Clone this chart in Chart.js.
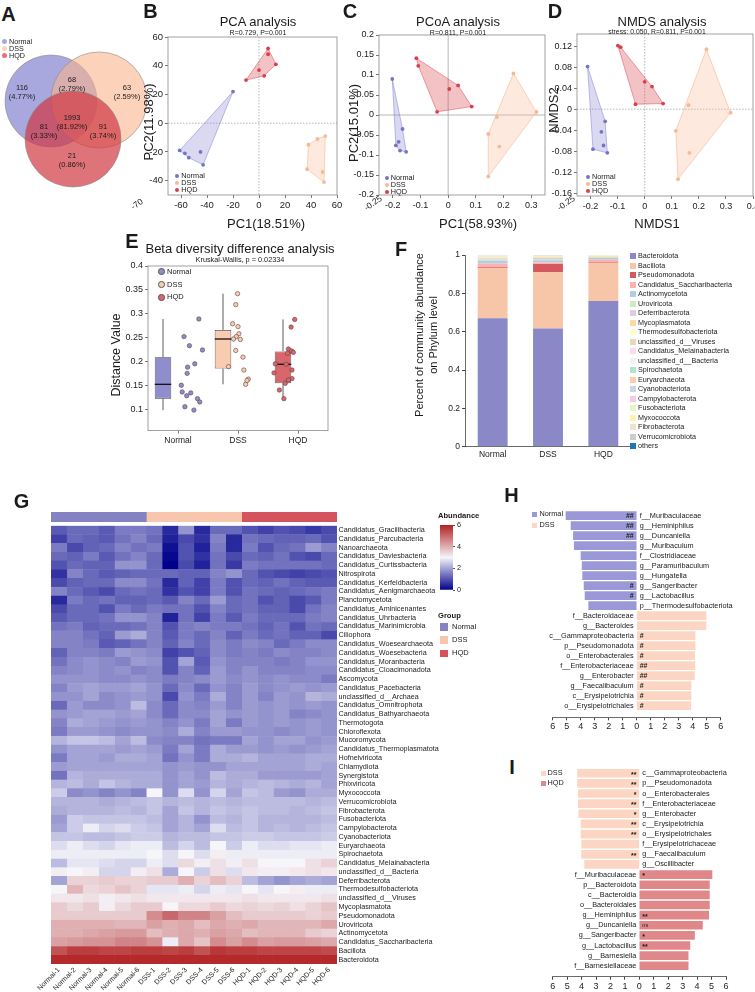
<!doctype html>
<html lang="en">
<head>
<meta charset="utf-8">
<title>Gut microbiota: Venn, ordination, beta diversity, phylum composition, heatmap, LEfSe</title>
<script src="https://cdn.jsdelivr.net/npm/chart.js@4.4.1/dist/chart.umd.min.js"></script>
<style>
  html, body { margin: 0; padding: 0; background: #fff; }
  #page { position: relative; width: 755px; height: 992px; overflow: hidden;
          font-family: "Liberation Sans", Arial, sans-serif; color: #1a1a1a; }
  #page canvas { position: absolute; }
  .t { position: absolute; white-space: nowrap; line-height: 1; }
  .mk { position: absolute; }
</style>
</head>
<body>
<div id="page"></div>
<script>
// ---------------- data ----------------
const groups = ['Normal', 'DSS', 'HQD'];

// A: Venn region counts
const vennRegions = ['Normal only', 'DSS only', 'HQD only', 'Normal+DSS', 'Normal+HQD', 'DSS+HQD', 'all three'];
const vennCounts = [116, 63, 21, 68, 81, 91, 1993];

// B: PCA scores
const pcaNormal = [[-20, 22], [-61, -19], [-57, -21], [-54, -24], [-45, -20], [-43, -29]];
const pcaDSS = [[38, -15], [45, -11], [51, -9], [37, -32], [49, -34], [50, -41]];
const pcaHQD = [[-10, 30], [0, 37], [4, 33], [7, 52], [7, 48], [13, 41]];
const pcaXTicks = [-60, -40, -20, 0, 20, 40, 60];
const pcaYTicks = [-40, -20, 0, 20, 40, 60];

// C: PCoA scores
const pcoaNormal = [[-0.202, 0.09], [-0.165, -0.035], [-0.189, -0.076], [-0.179, -0.067], [-0.174, -0.089], [-0.152, -0.092]];
const pcoaDSS = [[0.236, 0.104], [0.319, 0.0075], [0.176, -0.005], [0.145, -0.0475], [0.185, -0.079], [0.145, -0.154]];
const pcoaHQD = [[-0.115, 0.142], [-0.108, 0.123], [-0.04, 0.008], [0.004, 0.065], [0.036, 0.074], [0.085, 0.021]];
const pcoaXTicks = [-0.2, -0.1, 0, 0.1, 0.2, 0.3];
const pcoaYTicks = [-0.2, -0.15, -0.1, -0.05, 0, 0.05, 0.1, 0.15, 0.2];

// D: NMDS scores
const nmdsNormal = [[-0.211, 0.081], [-0.146, -0.023], [-0.16, -0.043], [-0.152, -0.069], [-0.191, -0.076], [-0.138, -0.083]];
const nmdsDSS = [[0.228, 0.114], [0.317, -0.0065], [0.162, 0.0076], [0.115, -0.041], [0.165, -0.083], [0.123, -0.133]];
const nmdsHQD = [[-0.099, 0.121], [-0.089, 0.118], [0, 0.052], [0.027, 0.043], [-0.034, 0.0095], [0.068, 0.0107]];
const nmdsXTicks = [-0.2, -0.1, 0, 0.1, 0.2, 0.3, 0.4];
const nmdsYTicks = [-0.16, -0.12, -0.08, -0.04, 0, 0.04, 0.08, 0.12];

// E: beta diversity distances (box stats + points, with horizontal jitter)
const boxMin = [0.098, 0.152, 0.122];
const boxQ1 = [0.122, 0.185, 0.154];
const boxMed = [0.152, 0.247, 0.194];
const boxQ3 = [0.209, 0.266, 0.221];
const boxMax = [0.289, 0.342, 0.288];
const distNormal = [0.289, 0.252, 0.233, 0.224, 0.195, 0.188, 0.175, 0.150, 0.136, 0.134, 0.128, 0.122, 0.115, 0.105, 0.098];
const distDSS = [0.342, 0.319, 0.279, 0.273, 0.258, 0.252, 0.247, 0.246, 0.223, 0.209, 0.189, 0.182, 0.163, 0.160, 0.152];
const distHQD = [0.288, 0.272, 0.226, 0.222, 0.219, 0.217, 0.195, 0.194, 0.182, 0.176, 0.164, 0.161, 0.154, 0.140, 0.122];
const jitNormal = [0.13, -0.2, -0.08, 0.21, 0.04, -0.12, -0.13, -0.26, -0.24, -0.05, -0.14, 0.1, 0.15, -0.18, 0.02];
const jitDSS = [-0.01, -0.05, -0.12, 0, 0.02, -0.04, -0.1, 0.05, -0.05, 0.11, -0.21, 0.13, 0.23, 0.2, 0.17];
const jitHQD = [0.26, 0.18, 0.12, 0.19, 0.23, 0.1, -0.17, 0.07, 0.2, -0.2, 0.2, 0.12, 0.05, -0.08, 0.02];
const distYTicks = [0.1, 0.15, 0.2, 0.25, 0.3, 0.35, 0.4];

// F: phylum relative abundance
const phylumNames = ['Bacteroidota', 'Bacillota', 'Pseudomonadota', 'Candidatus_Saccharibacteria', 'Actinomycetota',
  'Uroviricota', 'Deferribacterota', 'Mycoplasmatota', 'Thermodesulfobacteriota', 'unclassified_d__Viruses',
  'Candidatus_Melainabacteria', 'unclassified_d__Bacteria', 'Spirochaetota', 'Euryarchaeota', 'Cyanobacteriota',
  'Campylobacterota', 'Fusobacteriota', 'Myxococcota', 'Fibrobacterota', 'Verrucomicrobiota', 'others'];
const shareNormal = [0.670, 0.2615, 0.004, 0.020, 0.016, 0.006, 0.004, 0.005, 0.005, 0.002, 0.001, 0.001, 0.001, 0.001, 0.0006, 0.0005, 0.0004, 0.0003, 0.0003, 0.0002, 0.0002];
const shareDSS = [0.617, 0.2925, 0.043, 0.008, 0.012, 0.006, 0.006, 0.004, 0.003, 0.002, 0.002, 0.001, 0.001, 0.001, 0.0005, 0.0004, 0.0003, 0.0002, 0.0002, 0.0002, 0.0002];
const shareHQD = [0.760, 0.200, 0.003, 0.012, 0.010, 0.004, 0.001, 0.004, 0.002, 0.001, 0.001, 0.0008, 0.0006, 0.0005, 0.0004, 0.0003, 0.0003, 0.0002, 0.0002, 0.0002, 0.0002];
const shareYTicks = [0, 0.2, 0.4, 0.6, 0.8, 1];

// G: heatmap (log abundance), rows top to bottom, 18 samples
const sampleNames = ['Normal-1', 'Normal-2', 'Normal-3', 'Normal-4', 'Normal-5', 'Normal-6',
  'DSS-1', 'DSS-2', 'DSS-3', 'DSS-4', 'DSS-5', 'DSS-6',
  'HQD-1', 'HQD-2', 'HQD-3', 'HQD-4', 'HQD-5', 'HQD-6'];
const heatRows = ['Candidatus_Gracilibacteria', 'Candidatus_Parcubacteria', 'Nanoarchaeota', 'Candidatus_Daviesbacteria',
  'Candidatus_Curtissbacteria', 'Nitrospirota', 'Candidatus_Kerfeldbacteria', 'Candidatus_Aenigmarchaeota',
  'Planctomycetota', 'Candidatus_Aminicenantes', 'Candidatus_Uhrbacteria', 'Candidatus_Marinimicrobia', 'Ciliophora',
  'Candidatus_Woesearchaeota', 'Candidatus_Woesebacteria', 'Candidatus_Moranbacteria', 'Candidatus_Cloacimonadota',
  'Ascomycota', 'Candidatus_Pacebacteria', 'unclassified_d__Archaea', 'Candidatus_Omnitrophota',
  'Candidatus_Bathyarchaeota', 'Thermotogota', 'Chloroflexota', 'Mucoromycota', 'Candidatus_Thermoplasmatota',
  'Hofneiviricota', 'Chlamydiota', 'Synergistota', 'Phixviricota', 'Myxococcota', 'Verrucomicrobiota',
  'Fibrobacterota', 'Fusobacteriota', 'Campylobacterota', 'Cyanobacteriota', 'Euryarchaeota', 'Spirochaetota',
  'Candidatus_Melainabacteria', 'unclassified_d__Bacteria', 'Deferribacterota', 'Thermodesulfobacteriota',
  'unclassified_d__Viruses', 'Mycoplasmatota', 'Pseudomonadota', 'Uroviricota', 'Actinomycetota',
  'Candidatus_Saccharibacteria', 'Bacillota', 'Bacteroidota'];
const heatValues = [
  [1.1, 1.3, 1.3, 1.1, 1.5, 1.5, 1.4, 0.5, 1.8, 0.5, 1.3, 1.3, 1.0, 0.8, 1.0, 0.9, 0.7, 0.9],
  [0.8, 1.3, 1.2, 1.1, 1.4, 1.6, 1.3, 0.4, 0.9, 0.6, 1.6, 0.5, 1.4, 1.3, 1.2, 1.2, 1.3, 1.0],
  [1.5, 0.9, 1.2, 1.3, 1.6, 1.4, 1.5, 0.2, 1.0, 0.4, 1.5, 0.5, 1.5, 1.0, 1.3, 1.4, 1.9, 1.6],
  [1.3, 1.2, 1.5, 1.1, 1.4, 1.6, 1.3, 0.1, 1.0, 0.6, 1.4, 0.9, 1.3, 1.2, 1.4, 1.0, 0.9, 1.3],
  [1.0, 1.3, 1.2, 1.2, 1.8, 1.8, 1.3, 0.0, 0.9, 0.4, 1.4, 0.7, 1.5, 1.4, 1.4, 1.4, 1.4, 1.3],
  [0.6, 1.6, 1.3, 1.1, 1.2, 1.3, 1.3, 1.3, 1.2, 1.2, 1.6, 1.8, 1.3, 1.0, 0.9, 0.8, 0.9, 1.0],
  [0.9, 1.2, 1.3, 1.3, 1.7, 1.7, 1.4, 0.5, 1.2, 0.8, 1.5, 1.0, 1.3, 1.2, 1.4, 1.2, 1.1, 1.1],
  [1.6, 1.3, 1.1, 0.9, 1.3, 1.4, 1.3, 0.6, 1.0, 0.8, 1.5, 1.0, 1.4, 1.3, 1.2, 1.3, 1.4, 1.5],
  [0.5, 1.5, 1.3, 1.4, 1.2, 1.2, 1.3, 1.1, 1.6, 1.3, 1.9, 1.3, 1.4, 1.0, 1.2, 0.9, 1.1, 1.5],
  [0.9, 1.3, 1.3, 1.0, 1.5, 1.3, 1.5, 1.4, 1.4, 1.0, 1.6, 1.3, 1.4, 1.2, 1.2, 0.9, 1.4, 1.6],
  [1.1, 1.3, 1.3, 1.4, 1.8, 1.8, 1.6, 0.4, 1.4, 0.8, 1.5, 1.1, 1.5, 1.3, 1.3, 1.3, 1.5, 1.6],
  [1.4, 1.5, 1.2, 1.3, 1.3, 1.4, 1.6, 1.0, 1.5, 1.6, 1.5, 1.5, 1.4, 1.2, 1.4, 1.0, 1.4, 1.3],
  [1.6, 1.6, 1.4, 1.2, 1.9, 2.1, 1.6, 1.1, 1.5, 1.3, 1.6, 1.2, 1.5, 1.3, 1.4, 1.2, 1.2, 0.9],
  [1.6, 1.6, 1.5, 1.1, 1.2, 1.4, 1.6, 1.2, 1.6, 1.3, 1.7, 1.5, 1.7, 1.6, 1.3, 1.5, 1.7, 1.7],
  [1.2, 1.6, 1.6, 1.5, 1.9, 1.8, 1.7, 0.8, 1.0, 1.2, 1.7, 1.5, 1.6, 1.5, 1.7, 1.6, 1.6, 1.7],
  [1.4, 1.7, 1.8, 1.7, 1.6, 1.9, 1.8, 1.0, 2.0, 1.1, 1.8, 1.6, 1.6, 1.6, 1.5, 1.6, 1.8, 1.8],
  [1.6, 1.7, 1.8, 1.7, 1.8, 1.6, 1.7, 1.0, 1.6, 1.2, 1.9, 1.6, 1.8, 1.6, 1.6, 1.6, 1.7, 1.7],
  [1.8, 1.8, 1.8, 1.7, 1.7, 1.8, 1.7, 1.5, 1.6, 1.7, 1.9, 1.7, 1.8, 1.7, 1.8, 1.7, 1.7, 1.5],
  [1.6, 1.9, 2.0, 1.9, 1.9, 2.0, 1.8, 1.3, 1.7, 1.3, 1.8, 1.6, 1.9, 1.7, 1.8, 1.9, 1.8, 1.9],
  [1.8, 1.8, 2.0, 1.7, 1.8, 1.9, 1.8, 0.9, 1.8, 1.5, 2.1, 1.6, 1.9, 1.6, 1.9, 1.8, 2.2, 2.1],
  [1.3, 1.9, 1.7, 1.7, 1.8, 2.3, 1.7, 1.3, 1.7, 1.6, 1.9, 1.6, 1.9, 1.8, 1.9, 1.8, 1.9, 1.8],
  [1.8, 1.9, 2.0, 2.0, 1.9, 2.0, 1.7, 1.3, 1.7, 1.7, 2.0, 1.8, 1.9, 1.8, 1.9, 1.6, 1.7, 1.8],
  [1.6, 2.1, 2.0, 1.9, 1.8, 1.9, 1.8, 1.6, 1.8, 1.5, 2.0, 1.5, 1.9, 1.8, 1.9, 1.8, 1.9, 1.8],
  [1.5, 1.9, 1.9, 1.8, 1.7, 1.8, 1.8, 1.7, 2.1, 1.6, 1.9, 1.9, 1.8, 1.8, 1.7, 1.8, 1.9, 1.8],
  [2.2, 2.4, 2.4, 2.3, 2.0, 2.3, 1.7, 1.6, 1.6, 1.4, 1.5, 1.5, 2.0, 1.8, 2.0, 2.0, 1.8, 1.9],
  [1.8, 2.0, 2.0, 2.0, 1.9, 2.0, 1.9, 1.5, 2.0, 1.5, 2.1, 1.9, 1.9, 1.8, 1.9, 1.8, 1.9, 2.0],
  [1.5, 2.0, 2.0, 1.9, 2.1, 2.1, 2.0, 1.4, 1.8, 1.5, 2.1, 2.1, 2.2, 2.0, 2.0, 2.0, 2.1, 2.1],
  [1.9, 2.0, 2.0, 2.0, 2.0, 2.0, 2.0, 1.8, 1.9, 1.8, 1.8, 2.0, 2.0, 2.0, 2.0, 2.0, 2.1, 2.0],
  [1.4, 2.2, 2.1, 2.1, 2.1, 2.1, 2.1, 1.8, 2.0, 1.8, 2.3, 2.1, 2.1, 1.9, 1.9, 1.9, 1.9, 2.0],
  [2.2, 2.3, 2.1, 2.4, 2.2, 2.1, 2.1, 1.8, 2.0, 1.9, 2.2, 2.1, 2.2, 2.3, 2.2, 2.1, 2.2, 2.0],
  [2.5, 1.7, 1.8, 1.6, 1.8, 1.6, 3.0, 1.8, 2.7, 1.8, 2.6, 2.0, 2.4, 2.3, 1.9, 1.8, 2.1, 2.1],
  [2.2, 2.2, 2.2, 2.1, 2.2, 2.3, 2.4, 2.2, 2.3, 2.2, 2.3, 2.2, 2.3, 2.3, 2.3, 2.3, 2.2, 2.3],
  [2.1, 2.2, 2.2, 2.2, 2.3, 2.2, 2.4, 2.0, 2.4, 2.2, 2.4, 2.3, 2.4, 2.3, 2.3, 2.2, 2.3, 2.4],
  [1.9, 2.5, 2.4, 2.4, 2.4, 2.4, 2.3, 2.0, 2.2, 1.8, 2.3, 2.2, 2.4, 2.2, 2.2, 2.2, 2.2, 2.3],
  [2.0, 2.5, 2.9, 2.6, 2.7, 2.5, 2.4, 2.0, 2.2, 2.0, 2.7, 2.3, 2.4, 2.2, 2.3, 2.2, 2.3, 2.4],
  [2.4, 2.4, 2.3, 2.3, 2.4, 2.5, 2.5, 2.2, 2.3, 2.3, 2.4, 2.4, 2.5, 2.5, 2.4, 2.4, 2.4, 2.5],
  [2.7, 2.9, 2.7, 2.6, 2.8, 2.9, 2.9, 2.3, 2.6, 2.3, 3.0, 2.5, 2.9, 2.7, 2.7, 2.8, 2.8, 2.9],
  [2.9, 2.9, 2.9, 2.9, 2.9, 2.9, 3.0, 2.7, 3.0, 2.7, 3.1, 2.9, 2.9, 2.9, 2.9, 2.9, 2.9, 2.9],
  [2.3, 2.8, 2.8, 2.7, 2.6, 2.6, 2.9, 2.7, 3.4, 3.1, 3.3, 3.1, 3.3, 3.0, 3.0, 3.0, 3.3, 3.5],
  [3.1, 3.0, 3.1, 2.6, 2.6, 3.1, 3.3, 2.1, 3.0, 2.5, 3.3, 2.7, 3.2, 3.1, 3.1, 3.2, 3.3, 3.2],
  [2.0, 3.5, 3.5, 3.6, 3.5, 3.5, 3.6, 3.6, 4.0, 3.5, 3.8, 3.5, 2.3, 2.0, 1.8, 2.0, 2.1, 2.0],
  [3.0, 3.9, 3.4, 3.5, 3.7, 3.5, 2.8, 2.8, 2.9, 2.6, 2.9, 2.8, 3.0, 2.8, 3.0, 3.1, 2.9, 2.9],
  [3.2, 3.2, 3.3, 3.1, 3.2, 3.3, 3.2, 3.2, 3.2, 3.2, 3.2, 3.2, 3.3, 3.2, 3.2, 3.2, 3.2, 3.3],
  [3.6, 3.4, 3.6, 3.1, 3.4, 3.6, 3.6, 3.0, 3.4, 3.4, 3.6, 3.4, 3.5, 3.4, 3.5, 3.3, 3.5, 3.7],
  [3.6, 3.6, 3.6, 3.6, 3.6, 3.6, 4.5, 5.0, 4.6, 4.6, 4.2, 3.8, 3.6, 3.6, 3.6, 3.6, 3.5, 3.6],
  [4.0, 4.0, 4.0, 4.0, 3.9, 3.9, 4.2, 4.0, 4.1, 3.8, 4.1, 4.0, 4.1, 3.9, 3.9, 3.9, 3.9, 4.1],
  [4.0, 4.0, 4.1, 4.2, 4.3, 4.3, 3.8, 4.0, 4.1, 4.0, 4.2, 4.1, 3.8, 3.9, 3.9, 3.9, 3.6, 3.5],
  [4.2, 4.3, 4.4, 4.4, 4.6, 4.6, 4.4, 2.9, 4.1, 3.7, 4.5, 4.2, 4.5, 4.2, 4.3, 4.3, 4.2, 4.1],
  [5.3, 5.6, 5.6, 5.5, 5.5, 5.6, 5.6, 5.5, 5.6, 5.3, 5.7, 5.6, 5.6, 5.5, 5.5, 5.5, 5.5, 5.4],
  [5.9, 5.9, 5.9, 5.9, 5.9, 5.9, 5.9, 5.9, 5.9, 5.9, 5.9, 5.9, 5.9, 5.9, 5.9, 5.9, 5.9, 5.9]
];
const groupSizes = [6, 6, 6];

// H: LDA scores, Normal vs DSS
const hNormalTaxa = ['f__Muribaculaceae', 'g__Heminiphilus', 'g__Duncaniella', 'g__Muribaculum', 'f__Clostridiaceae',
  'g__Paramuribaculum', 'g__Hungatella', 'g__Sangeribacter', 'g__Lactobacillus', 'p__Thermodesulfobacteriota'];
const hNormalLDA = [5.05, 4.69, 4.52, 4.46, 3.98, 3.9, 3.86, 3.76, 3.69, 3.43];
const hNormalSig = ['##', '##', '##', '', '', '', '', '#', '#', ''];
const hDssTaxa = ['f__Bacteroidaceae', 'g__Bacteroides', 'c__Gammaproteobacteria', 'p__Pseudomonadota', 'o__Enterobacterales',
  'f__Enterobacteriaceae', 'g__Enterobacter', 'g__Faecalibaculum', 'c__Erysipelotrichia', 'o__Erysipelotrichales'];
const hDssLDA = [4.95, 4.95, 4.17, 4.17, 4.14, 4.15, 4.12, 3.88, 3.88, 3.86];
const hDssSig = ['', '', '#', '#', '#', '##', '##', '#', '#', '#'];

// I: LDA scores, DSS vs HQD
const iDssTaxa = ['c__Gammaproteobacteria', 'p__Pseudomonadota', 'o__Enterobacterales', 'f__Enterobacteriaceae', 'g__Enterobacter',
  'c__Erysipelotrichia', 'o__Erysipelotrichales', 'f__Erysipelotrichaceae', 'g__Faecalibaculum', 'g__Oscillibacter'];
const iDssLDA = [4.28, 4.28, 4.23, 4.23, 4.2, 4.04, 4.04, 4.0, 4.0, 3.79];
const iDssSig = ['**', '**', '*', '**', '*', '**', '**', '', '**', ''];
const iHqdTaxa = ['f__Muribaculaceae', 'p__Bacteroidota', 'c__Bacteroidia', 'o__Bacteroidales', 'g__Heminiphilus',
  'g__Duncaniella', 'g__Sangeribacter', 'g__Lactobacillus', 'g__Barnesiella', 'f__Barnesiellaceae'];
const iHqdLDA = [5.03, 4.85, 4.85, 4.85, 4.8, 4.37, 3.82, 3.5, 3.38, 3.38];
const iHqdSig = ['*', '', '', '', '**', 'ns', '*', '**', '', ''];

// ---------------- styles ----------------
const FONT = '"Liberation Sans", Arial, sans-serif';
const dotColors = ['#7674c8', '#f6b994', '#d93e4a'];
const hullFill = ['rgba(122,120,206,0.28)', 'rgba(248,188,150,0.32)', 'rgba(218,64,76,0.32)'];
const hullLine = ['rgba(122,120,206,0.6)', 'rgba(246,180,140,0.7)', 'rgba(218,64,76,0.6)'];
const vennFill = ['rgba(110,110,200,0.6)', 'rgba(250,180,140,0.6)', 'rgba(210,55,65,0.7)'];
const boxColors = ['#8f8dcc', '#f9cbb0', '#d9666b'];
const heatGroupColors = ['#8482c2', '#f8c6ac', '#d4535d'];
const phylumColors = ['#8a88c6', '#f7c5a8', '#d6585f', '#f9b4b0', '#b3cde3', '#ccebc5', '#decbe4', '#fed9a6',
  '#ffffcc', '#e5d8bd', '#fddaec', '#f2f2f2', '#b3e2cd', '#fdcdac', '#cbd5e8', '#f4cae4', '#e6f5c9', '#fff2ae',
  '#f1e2cc', '#cccccc', '#1f78b4'];
const lefseColors = { Normal: '#9a98d6', DSS: '#fcd6c2', HQD: '#e0878a' };

Chart.defaults.font.family = FONT;
Chart.defaults.color = '#222';
Chart.defaults.animation = false;
Chart.defaults.responsive = false;
Chart.defaults.maintainAspectRatio = false;
Chart.defaults.events = [];
Chart.defaults.plugins.legend.display = false;
Chart.defaults.plugins.tooltip.enabled = false;
Chart.defaults.layout.autoPadding = false;

const page = document.getElementById('page');

function canvasAt(b) {
  const c = document.createElement('canvas');
  c.width = b.w; c.height = b.h;
  c.style.left = b.x + 'px'; c.style.top = b.y + 'px';
  c.style.width = b.w + 'px'; c.style.height = b.h + 'px';
  page.appendChild(c);
  return c;
}

function txt(s, x, y, size, o = {}) {
  const d = document.createElement('div');
  d.className = 't';
  d.textContent = s;
  d.style.left = x + 'px';
  d.style.top = y + 'px';
  d.style.fontSize = size + 'px';
  if (o.bold) d.style.fontWeight = 'bold';
  if (o.color) d.style.color = o.color;
  const ax = o.align === 'left' ? '0' : o.align === 'right' ? '-100%' : '-50%';
  d.style.transform = 'translate(' + ax + ',-50%)' + (o.rot ? ' rotate(' + o.rot + 'deg)' : '');
  page.appendChild(d);
}

function mark(x, y, w, h, color, round, border) {
  const d = document.createElement('div');
  d.className = 'mk';
  d.style.left = x + 'px'; d.style.top = y + 'px';
  d.style.width = w + 'px'; d.style.height = h + 'px';
  d.style.background = color;
  if (round) d.style.borderRadius = '50%';
  if (border) { d.style.boxSizing = 'border-box'; d.style.border = border; }
  page.appendChild(d);
}

const fmt = v => String(Math.round(v * 1000) / 1000);
const fitX = h => s => { s.height = h; s.paddingLeft = 0; s.paddingRight = 0; };
const fitY = w => s => { s.width = w; s.paddingTop = 0; s.paddingBottom = 0; };

// ---------------- plugins ----------------
const framePlugin = {
  id: 'frame',
  afterDraw(chart, args, o) {
    const a = chart.chartArea, c = chart.ctx;
    c.save();
    c.strokeStyle = o.color || '#8a8a8a';
    c.lineWidth = 0.8;
    c.strokeRect(a.left, a.top, a.right - a.left, a.bottom - a.top);
    c.restore();
  }
};

const zeroPlugin = {
  id: 'zeroLines',
  beforeDatasetsDraw(chart, args, o) {
    const { ctx, chartArea: a, scales: { x, y } } = chart;
    const px = x.getPixelForValue(0), py = y.getPixelForValue(0);
    ctx.save();
    ctx.strokeStyle = o.color || '#9a9a9a';
    ctx.lineWidth = 0.7;
    ctx.setLineDash(o.dash || []);
    ctx.beginPath();
    ctx.moveTo(px, a.top); ctx.lineTo(px, a.bottom);
    ctx.moveTo(a.left, py); ctx.lineTo(a.right, py);
    ctx.stroke();
    ctx.restore();
  }
};

function hull(pts) {
  const p = pts.slice().sort((a, b) => a[0] - b[0] || a[1] - b[1]);
  const cross = (o, a, b) => (a[0] - o[0]) * (b[1] - o[1]) - (a[1] - o[1]) * (b[0] - o[0]);
  const lo = [], up = [];
  for (const q of p) { while (lo.length >= 2 && cross(lo[lo.length - 2], lo[lo.length - 1], q) <= 0) lo.pop(); lo.push(q); }
  for (const q of p.reverse()) { while (up.length >= 2 && cross(up[up.length - 2], up[up.length - 1], q) <= 0) up.pop(); up.push(q); }
  return lo.slice(0, -1).concat(up.slice(0, -1));
}

const hullPlugin = {
  id: 'hulls',
  beforeDatasetsDraw(chart) {
    const ctx = chart.ctx;
    chart.data.datasets.forEach((ds, i) => {
      const h = hull(chart.getDatasetMeta(i).data.map(e => [e.x, e.y]));
      ctx.save();
      ctx.beginPath();
      h.forEach((p, k) => k ? ctx.lineTo(p[0], p[1]) : ctx.moveTo(p[0], p[1]));
      ctx.closePath();
      ctx.fillStyle = hullFill[i];
      ctx.fill();
      ctx.strokeStyle = hullLine[i];
      ctx.lineWidth = 0.8;
      ctx.stroke();
      ctx.restore();
    });
  }
};

// ---------------- A: Venn ----------------
const vennCircles = [[51, 101, 46], [99, 100, 48], [73, 139, 48]];
const vennLabelPos = [[22, 88], [127, 88], [72, 156], [72, 80], [44, 127], [103, 127], [72, 118]];
(function () {
  const box = { x: 0, y: 40, w: 160, h: 155 };
  const total = vennCounts.reduce((a, b) => a + b, 0);
  new Chart(canvasAt(box), {
    type: 'bubble',
    data: {
      datasets: vennCircles.map((c, i) => ({
        label: groups[i],
        data: [{ x: c[0], y: c[1], r: c[2] }],
        backgroundColor: vennFill[i], borderColor: '#8a8a8a', borderWidth: 0.6,
        order: 3 - i
      }))
    },
    options: {
      layout: { padding: 0 },
      scales: {
        x: { type: 'linear', min: box.x, max: box.x + box.w, display: false },
        y: { type: 'linear', min: box.y, max: box.y + box.h, reverse: true, display: false }
      }
    },
    plugins: [{
      id: 'vennText',
      afterDatasetsDraw(chart) {
        const { ctx, scales: { x, y } } = chart;
        ctx.save();
        ctx.fillStyle = '#1a1a1a';
        ctx.textAlign = 'center';
        ctx.textBaseline = 'middle';
        ctx.font = '7.5px ' + FONT;
        vennCounts.forEach((n, i) => {
          const [lx, ly] = vennLabelPos[i];
          ctx.fillText(String(n), x.getPixelForValue(lx), y.getPixelForValue(ly));
          ctx.fillText('(' + (n / total * 100).toFixed(2) + '%)', x.getPixelForValue(lx), y.getPixelForValue(ly + 9));
        });
        ctx.restore();
      }
    }]
  });
})();

// ---------------- B, C, D: ordination ----------------
function ordination(box, area, xr, yr, xt, yt, sets, dash, tickSize) {
  const axis = (range, ticks, fit) => ({
    type: 'linear', min: range[0], max: range[1],
    afterBuildTicks: s => { s.ticks = ticks.map(v => ({ value: v })); },
    afterFit: fit,
    ticks: { font: { size: tickSize }, color: '#222', padding: 2, callback: v => fmt(v) },
    grid: { drawOnChartArea: false, tickLength: 3, tickColor: '#777' },
    border: { display: false }
  });
  new Chart(canvasAt(box), {
    type: 'scatter',
    data: {
      datasets: sets.map((pts, i) => ({
        label: groups[i],
        data: pts.map(p => ({ x: p[0], y: p[1] })),
        backgroundColor: dotColors[i], borderColor: dotColors[i],
        pointRadius: 1.9, pointBorderWidth: 0
      }))
    },
    options: {
      layout: { padding: { left: 0, top: area.t - box.y, right: box.x + box.w - area.r, bottom: 0 } },
      scales: {
        x: axis(xr, xt, fitX(box.y + box.h - area.b)),
        y: axis(yr, yt, fitY(area.l - box.x))
      },
      plugins: { zeroLines: { dash: dash }, frame: { color: '#8a8a8a' } }
    },
    plugins: [zeroPlugin, hullPlugin, framePlugin]
  });
}

ordination({ x: 128, y: 30, w: 214, h: 190 }, { l: 168, t: 37, r: 337, b: 195 },
  [-70, 60], [-50, 60], pcaXTicks, pcaYTicks, [pcaNormal, pcaDSS, pcaHQD], [1.5, 1.5], 9.5);
ordination({ x: 338, y: 28, w: 212, h: 192 }, { l: 379, t: 35, r: 545, b: 195 },
  [-0.25, 0.35], [-0.2, 0.2], pcoaXTicks, pcoaYTicks, [pcoaNormal, pcoaDSS, pcoaHQD], [], 9);
ordination({ x: 545, y: 27, w: 210, h: 193 }, { l: 577, t: 34, r: 753, b: 196 },
  [-0.25, 0.4], [-0.165, 0.143], nmdsXTicks, nmdsYTicks, [nmdsNormal, nmdsDSS, nmdsHQD], [1.5, 1.5], 9);

// ---------------- E: beta diversity boxplot ----------------
(function () {
  const box = { x: 112, y: 258, w: 222, h: 192 };
  const area = { l: 148, t: 266, r: 328, b: 430.6 };
  const dists = [distNormal, distDSS, distHQD];
  const jits = [jitNormal, jitDSS, jitHQD];
  new Chart(canvasAt(box), {
    type: 'bar',
    data: {
      labels: groups,
      datasets: [
        {
          type: 'bar', data: boxQ1.map((q, i) => [q, boxQ3[i]]),
          backgroundColor: boxColors, borderColor: '#3a3a3a', borderWidth: 0.8, borderSkipped: false,
          barPercentage: 0.55, categoryPercentage: 1, order: 2
        },
        ...dists.map((vals, i) => ({
          type: 'scatter', xAxisID: 'xj',
          data: vals.map((v, k) => ({ x: i + jits[i][k], y: v })),
          backgroundColor: boxColors[i], borderColor: '#5b4343', borderWidth: 0.6,
          pointRadius: 2.2, order: 1
        }))
      ]
    },
    options: {
      layout: { padding: { left: 0, top: area.t - box.y, right: box.x + box.w - area.r, bottom: 0 } },
      scales: {
        x: {
          type: 'category', offset: true, afterFit: fitX(box.y + box.h - area.b),
          ticks: { font: { size: 8.5 }, padding: 2 },
          grid: { offset: false, drawOnChartArea: false, tickLength: 3, tickColor: '#777' },
          border: { display: false }
        },
        xj: { type: 'linear', min: -0.5, max: 2.5, display: false },
        y: {
          type: 'linear', min: 0.055, max: 0.4,
          afterBuildTicks: s => { s.ticks = distYTicks.map(v => ({ value: v })); },
          afterFit: fitY(area.l - box.x),
          ticks: { font: { size: 9 }, padding: 2, callback: v => fmt(v) },
          grid: { drawOnChartArea: false, tickLength: 3, tickColor: '#777' },
          border: { display: false }
        }
      },
      plugins: { frame: { color: '#8a8a8a' } }
    },
    plugins: [framePlugin, {
      id: 'whiskers',
      afterDatasetDraw(chart, args) {
        if (args.index !== 0) return;
        const { ctx, scales: { y } } = chart;
        ctx.save();
        args.meta.data.forEach((bar, i) => {
          const x = bar.x, hw = bar.width / 2;
          ctx.strokeStyle = '#333';
          ctx.lineWidth = 0.8;
          ctx.beginPath();
          ctx.moveTo(x, y.getPixelForValue(boxMax[i])); ctx.lineTo(x, y.getPixelForValue(boxQ3[i]));
          ctx.moveTo(x, y.getPixelForValue(boxQ1[i])); ctx.lineTo(x, y.getPixelForValue(boxMin[i]));
          ctx.stroke();
          ctx.strokeStyle = '#111';
          ctx.lineWidth = 1.3;
          const ym = y.getPixelForValue(boxMed[i]);
          ctx.beginPath();
          ctx.moveTo(x - hw, ym); ctx.lineTo(x + hw, ym);
          ctx.stroke();
        });
        ctx.restore();
      }
    }]
  });
})();

// ---------------- F: phylum stacked bars ----------------
(function () {
  const box = { x: 430, y: 248, w: 205, h: 220 };
  const area = { l: 465, t: 255, r: 631, b: 446.7 };
  new Chart(canvasAt(box), {
    type: 'bar',
    data: {
      labels: groups,
      datasets: phylumNames.map((n, i) => ({
        label: n, data: [shareNormal[i], shareDSS[i], shareHQD[i]],
        backgroundColor: phylumColors[i], borderWidth: 0,
        barPercentage: 0.54, categoryPercentage: 1
      }))
    },
    options: {
      layout: { padding: { left: 0, top: area.t - box.y, right: box.x + box.w - area.r, bottom: 0 } },
      scales: {
        x: {
          stacked: true, afterFit: fitX(box.y + box.h - area.b),
          ticks: { font: { size: 8.5 }, padding: 3 },
          grid: { display: false, drawTicks: false },
          border: { display: true, color: '#444', width: 0.8 }
        },
        y: {
          stacked: true, min: 0, max: 1,
          afterBuildTicks: s => { s.ticks = shareYTicks.map(v => ({ value: v })); },
          afterFit: fitY(area.l - box.x),
          ticks: { font: { size: 8.5 }, padding: 2, callback: v => fmt(v) },
          grid: { drawOnChartArea: false, tickLength: 3, tickColor: '#444' },
          border: { display: true, color: '#444', width: 0.8 }
        }
      }
    }
  });
})();

// ---------------- G: heatmap ----------------
function heatColor(v) {
  const stops = [[0, [0, 0, 139]], [3, [245, 245, 250]], [6, [178, 34, 34]]];
  const t = Math.max(0, Math.min(6, v));
  const [a, b] = t <= 3 ? [stops[0], stops[1]] : [stops[1], stops[2]];
  const f = (t - a[0]) / (b[0] - a[0]);
  const c = a[1].map((ch, k) => Math.round(ch + (b[1][k] - ch) * f));
  return 'rgb(' + c.join(',') + ')';
}

(function () {
  const box = { x: 20, y: 519, w: 430, h: 473 };
  const area = { l: 51, t: 525.7, r: 337, b: 964 };
  new Chart(canvasAt(box), {
    type: 'bar',
    data: {
      labels: heatRows,
      datasets: sampleNames.map((s, j) => {
        const cols = heatRows.map((r, i) => heatColor(heatValues[i][j]));
        return {
          label: s, data: heatRows.map(() => [j, j + 1]),
          backgroundColor: cols, borderColor: cols, borderWidth: 0.4, borderSkipped: false,
          barPercentage: 1, categoryPercentage: 1
        };
      })
    },
    options: {
      indexAxis: 'y',
      datasets: { bar: { grouped: false } },
      layout: { padding: { left: area.l - box.x, top: area.t - box.y, right: 0, bottom: 0 } },
      scales: {
        x: {
          type: 'linear', min: 0, max: sampleNames.length,
          afterBuildTicks: s => { s.ticks = sampleNames.map((n, j) => ({ value: j + 0.5 })); },
          afterFit: fitX(box.y + box.h - area.b),
          ticks: { font: { size: 7 }, padding: 2, autoSkip: false, minRotation: 45, maxRotation: 45,
                   callback: v => sampleNames[Math.floor(v)] },
          grid: { display: false, drawTicks: false }, border: { display: false }
        },
        y: {
          position: 'right', afterFit: fitY(box.x + box.w - area.r),
          ticks: { font: { size: 7.2 }, padding: 1.5, autoSkip: false },
          grid: { display: false, drawTicks: false }, border: { display: false }
        }
      }
    }
  });

  // group annotation bar
  let start = 0;
  new Chart(canvasAt({ x: 51, y: 512, w: 286, h: 10 }), {
    type: 'bar',
    data: {
      labels: ['Group'],
      datasets: groups.map((g, i) => {
        const d = { label: g, data: [[start, start + groupSizes[i]]], backgroundColor: heatGroupColors[i],
                    borderWidth: 0, barPercentage: 1, categoryPercentage: 1 };
        start += groupSizes[i];
        return d;
      })
    },
    options: {
      indexAxis: 'y',
      datasets: { bar: { grouped: false } },
      layout: { padding: 0 },
      scales: { x: { type: 'linear', min: 0, max: sampleNames.length, display: false }, y: { display: false } }
    }
  });

  // colour key
  new Chart(canvasAt({ x: 436, y: 519, w: 40, h: 73 }), {
    type: 'bar',
    data: {
      labels: ['Abundance'],
      datasets: [{
        data: [[0, 6]], borderWidth: 0, barPercentage: 1, categoryPercentage: 1,
        backgroundColor: ctx => {
          const a = ctx.chart.chartArea;
          if (!a) return '#ccc';
          const g = ctx.chart.ctx.createLinearGradient(0, a.bottom, 0, a.top);
          for (let v = 0; v <= 6; v++) g.addColorStop(v / 6, heatColor(v));
          return g;
        }
      }]
    },
    options: {
      layout: { padding: { left: 4, top: 6, right: 0, bottom: 2 } },
      scales: {
        x: { display: false },
        y: {
          position: 'right', min: 0, max: 6, afterFit: fitY(23),
          ticks: { stepSize: 1, font: { size: 7.2 }, padding: 2 },
          grid: { drawOnChartArea: false, tickLength: 2, tickColor: '#555' },
          border: { display: false }
        }
      }
    }
  });
})();

// ---------------- H, I: LDA diverging bars ----------------
const taxaPlugin = {
  id: 'taxa',
  afterDatasetsDraw(chart) {
    const { ctx, scales: { x } } = chart;
    const x0 = x.getPixelForValue(0);
    ctx.save();
    ctx.fillStyle = '#1a1a1a';
    ctx.textBaseline = 'middle';
    chart.data.datasets.forEach((ds, i) => {
      chart.getDatasetMeta(i).data.forEach((bar, k) => {
        const left = ds.dir < 0;
        ctx.font = '7.3px ' + FONT;
        ctx.textAlign = left ? 'left' : 'right';
        ctx.fillText(ds.taxa[k], x0 + (left ? 3 : -3), bar.y);
        const s = ds.sig[k];
        if (s) {
          ctx.font = (s === 'ns' ? '5.5px ' : 'bold 7px ') + FONT;
          ctx.textAlign = left ? 'right' : 'left';
          ctx.fillText(s, x0 + (left ? -3 : 3), bar.y + (s.startsWith('*') ? 1.5 : 0));
        }
      });
    });
    ctx.restore();
  }
};

function lefse(box, area, yMax, parts) {
  let row = 0;
  const datasets = parts.map(p => {
    const first = row;
    row += p.taxa.length;
    return {
      label: p.name,
      data: p.lda.map((v, k) => ({ x: p.dir * v, y: first + k })),
      backgroundColor: lefseColors[p.name], borderWidth: 0, barThickness: 8,
      taxa: p.taxa, sig: p.sig, dir: p.dir
    };
  });
  new Chart(canvasAt(box), {
    type: 'bar',
    data: { datasets },
    options: {
      indexAxis: 'y',
      datasets: { bar: { grouped: false } },
      layout: { padding: { left: area.l - box.x, top: area.t - box.y, right: box.x + box.w - area.r, bottom: 0 } },
      scales: {
        x: {
          type: 'linear', min: -6, max: 6, afterFit: fitX(box.y + box.h - area.b),
          ticks: { stepSize: 1, font: { size: 9 }, padding: 1, callback: v => Math.abs(v) },
          grid: { drawOnChartArea: false, tickLength: 3, tickColor: '#444' },
          border: { display: true, color: '#444', width: 0.8 }
        },
        y: { type: 'linear', offset: false, min: -0.5, max: yMax, reverse: true, display: false }
      }
    },
    plugins: [taxaPlugin]
  });
}

lefse({ x: 535, y: 505, w: 205, h: 230 }, { l: 552.7, t: 510.7, r: 720.7, b: 717.3 }, 20.16, [
  { name: 'Normal', dir: -1, taxa: hNormalTaxa, lda: hNormalLDA, sig: hNormalSig },
  { name: 'DSS', dir: 1, taxa: hDssTaxa, lda: hDssLDA, sig: hDssSig }
]);
lefse({ x: 535, y: 762, w: 205, h: 230 }, { l: 552.7, t: 768.2, r: 726, b: 976.7 }, 20.08, [
  { name: 'DSS', dir: -1, taxa: iDssTaxa, lda: iDssLDA, sig: iDssSig },
  { name: 'HQD', dir: 1, taxa: iHqdTaxa, lda: iHqdLDA, sig: iHqdSig }
]);

// ---------------- text, legends ----------------
[['A', 8.5, 13.5], ['B', 150.5, 11], ['C', 350, 11], ['D', 555, 11], ['E', 132, 241], ['F', 401, 249],
 ['G', 21.5, 500.5], ['H', 511.5, 495], ['I', 512, 766.5]].forEach(l => txt(l[0], l[1], l[2], 20, { bold: true }));

// A legend
groups.forEach((g, i) => {
  mark(2, 39.2 + i * 7.1, 5, 5, vennFill[i], true);
  txt(g, 9, 41.7 + i * 7.1, 7.2, { align: 'left' });
});

// B-D titles and axes
txt('PCA analysis', 258, 21, 13);
txt('R=0.729, P=0.001', 258, 31.5, 7);
txt('PCoA analysis', 458, 21, 13);
txt('R=0.811, P=0.001', 458, 31.5, 7);
txt('NMDS analysis', 662, 21, 13);
txt('stress: 0.050, R=0.811, P=0.001', 657, 31.5, 6.8);
txt('PC1(18.51%)', 266, 223, 13);
txt('PC2(11.98%)', 148, 122, 13, { rot: -90 });
txt('PC1(58.93%)', 478, 223, 13);
txt('PC2(15.01%)', 353, 123, 13, { rot: -90 });
txt('NMDS1', 657, 223, 13);
txt('NMDS2', 553, 110, 13, { rot: -90 });
txt('-70', 137, 204, 8.5, { rot: -35 });
txt('-0.25', 373, 203, 8.5, { rot: -35 });
txt('-0.25', 566, 203, 8.5, { rot: -35 });
[[177.3, 176], [386.7, 178.3], [588, 177.3]].forEach(([x, y]) => {
  groups.forEach((g, i) => {
    mark(x - 2, y + i * 7 - 2, 4, 4, dotColors[i], true);
    txt(g, x + 4, y + i * 7, 7.3, { align: 'left' });
  });
});

// E
txt('Beta diversity difference analysis', 240, 248, 13);
txt('Kruskal-Wallis, p = 0.02334', 240, 260, 7.3);
txt('Distance Value', 116, 355, 12.5, { rot: -90 });
groups.forEach((g, i) => {
  mark(158.4, 268.4 + i * 12.8, 6.6, 6.6, boxColors[i], true, '0.6px solid #555');
  txt(g, 167, 271.7 + i * 12.8, 7.5, { align: 'left' });
});

// F
txt('Percent of community abundance', 419, 335, 11, { rot: -90 });
txt('on Phylum level', 433, 335, 11, { rot: -90 });
phylumNames.forEach((n, i) => {
  mark(630, 253 + i * 9.5, 6, 6, phylumColors[i]);
  txt(n, 638, 256 + i * 9.5, 7.2, { align: 'left' });
});

// G legends
txt('Abundance', 438, 515.7, 7.6, { bold: true, align: 'left' });
txt('Group', 438, 615.7, 7.6, { bold: true, align: 'left' });
groups.forEach((g, i) => {
  mark(440, 623 + i * 13.3, 7.5, 7.5, heatGroupColors[i]);
  txt(g, 452, 626.8 + i * 13.3, 7.5, { align: 'left' });
});

// H, I legends
[['Normal', 514], ['DSS', 525]].forEach(([g, y]) => {
  mark(532, y - 2.5, 5, 5, lefseColors[g]);
  txt(g, 539.5, y, 7.3, { align: 'left' });
});
[['DSS', 773.3], ['HQD', 783.3]].forEach(([g, y]) => {
  mark(540.5, y - 2.5, 5, 5, lefseColors[g]);
  txt(g, 547.5, y, 7.3, { align: 'left' });
});
</script>
</body>
</html>
